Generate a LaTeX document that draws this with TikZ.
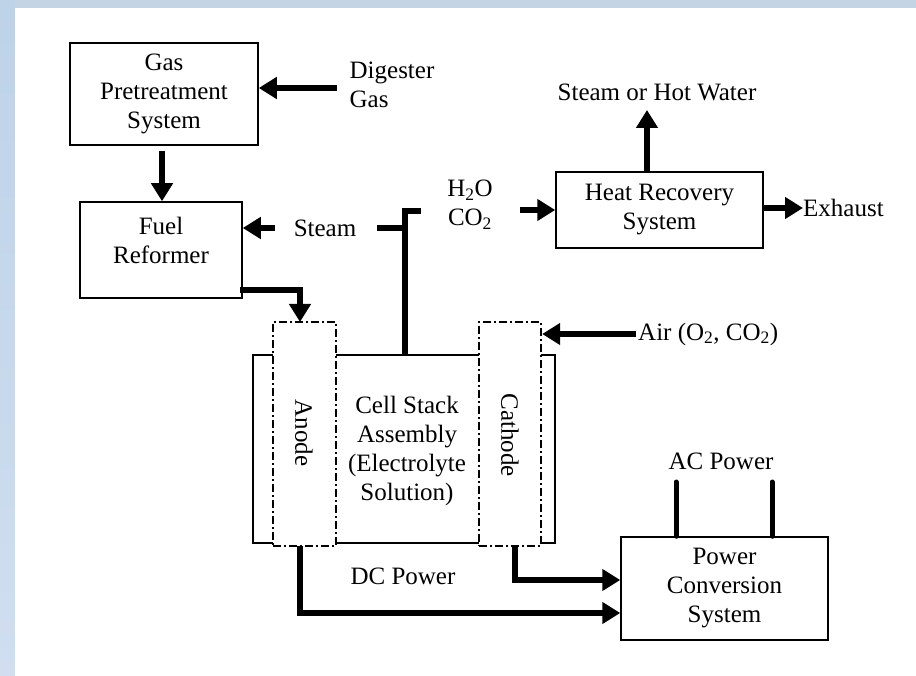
\documentclass[tikz,border=0pt]{standalone}
\usepackage{fontspec}
\setmainfont{Liberation Serif}
\usetikzlibrary{arrows.meta}
\definecolor{frame top}{RGB}{196,212,228}
\definecolor{frame light}{RGB}{190,210,232}
\definecolor{frame mid}{RGB}{150,186,218}
\definecolor{frame low}{RGB}{208,222,240}

\begin{document}
\begin{tikzpicture}[
        x=1pt,
        y=-1pt,
        every node/.style={font=\fontsize{25}{29}\selectfont,inner sep=0pt},
        unit box/.style={draw=black,fill=white,line width=1.5pt},
        electrode/.style={draw=black,fill=white,line width=2.4pt,dash pattern=on 8pt off 3pt on 2pt off 3pt},
        flow/.style={line width=6.5pt,-{Triangle[length=18pt,width=21pt]}},
        pipe/.style={line width=6.5pt},
        lead/.style={line width=5pt,line cap=round}
    ]
        % frame
        \useasboundingbox (0,0) rectangle (916,676);
        \fill[top color=frame light,middle color=frame mid,bottom color=frame low] (0,0) rectangle (15,676);
        \fill[frame top] (15,0) rectangle (916,8);
        \fill[white] (15,8) rectangle (916,676);

        % units
        \node[unit box,minimum width=188pt,minimum height=102pt,align=center] (gps) at (164,94) {Gas\\Pretreatment\\System};
        \node[unit box,minimum width=162pt,minimum height=96pt] (fr) at (161,250) {};
        \node[align=center] (fr text) at (161,240) {Fuel\\Reformer};
        \node[unit box,minimum width=207pt,minimum height=76pt,align=center] (hrs) at (659.5,210) {Heat Recovery\\System};
        \node[unit box,minimum width=207pt,minimum height=103pt,align=center] (pcs) at (724.5,588.5) {Power\\Conversion\\System};

        % cell stack
        \node[unit box,line width=1.3pt,minimum width=302pt,minimum height=188pt] (cs) at (404,449) {};
        \node[electrode,minimum width=63pt,minimum height=224pt] (an) at (304.5,434) {};
        \node[electrode,minimum width=62pt,minimum height=224pt] (cat) at (510,434) {};
        \node[align=center] (cs text) at (407,451) {Cell Stack\\Assembly\\(Electrolyte\\Solution)};
        \node[rotate=-90] (an text) at (304,433) {Anode};
        \node[rotate=-90] (cat text) at (510,435) {Cathode};

        % stream labels
        \node[align=left] (dig) at (392,85) {Digester\\Gas};
        \node (steam) at (325,228) {Steam};
        \node[align=center] (flue) at (470,205) {H\textsubscript{2}O\\CO\textsubscript{2}};
        \node (hot) at (657,92) {Steam or Hot Water};
        \node[anchor=west] (exh) at (803,208) {Exhaust};
        \node[anchor=west] (air) at (638,334) {Air (O\textsubscript{2}, CO\textsubscript{2})};
        \node (ac) at (721,461) {AC Power};
        \node (dc) at (403,576) {DC Power};

        % free ends
        \coordinate (dig in) at (337,88);
        \coordinate (steam in) at (275,228);
        \coordinate (t top) at (405,211);
        \coordinate (t cap) at (421,211);
        \coordinate (t left) at (377,228);
        \coordinate (flue in) at (520,210);
        \coordinate (hot out) at (647,110);
        \coordinate (fr out) at (240,290);
        \coordinate (an in) at (300,322);
        \coordinate (air in) at (636,334);
        \coordinate (cat out) at (515,546);
        \coordinate (an out) at (300,546);

        % connectors
        \draw[flow] (dig in) -- (dig in -| gps.east);
        \draw[flow,shorten <=5pt] (gps.south -| 162,0) -- (fr.north -| 162,0);
        \draw[flow] (steam in) -- (steam in -| fr.east);
        \draw[pipe] (t cap) -- (t top) -- (t top |- cs.north);
        \draw[pipe] (t left) -- (t left -| t top);
        \draw[flow] (flue in) -- (flue in -| hrs.west);
        \draw[flow] (hrs.north -| hot out) -- (hot out);
        \draw[flow] (exh.west -| hrs.east) -- (exh.west);
        \draw[flow] (fr out) -| (an in);
        \draw[flow] (air in) -- (air in -| cat.east);
        \draw[flow] (cat out) |- (pcs.west |- 0,580);
        \draw[flow] (an out) |- (pcs.west |- 0,613);
        \draw[lead] (pcs.north -| 676,0) -- (676,482);
        \draw[lead] (pcs.north -| 772,0) -- (772,482);
    \end{tikzpicture}
\end{document}
